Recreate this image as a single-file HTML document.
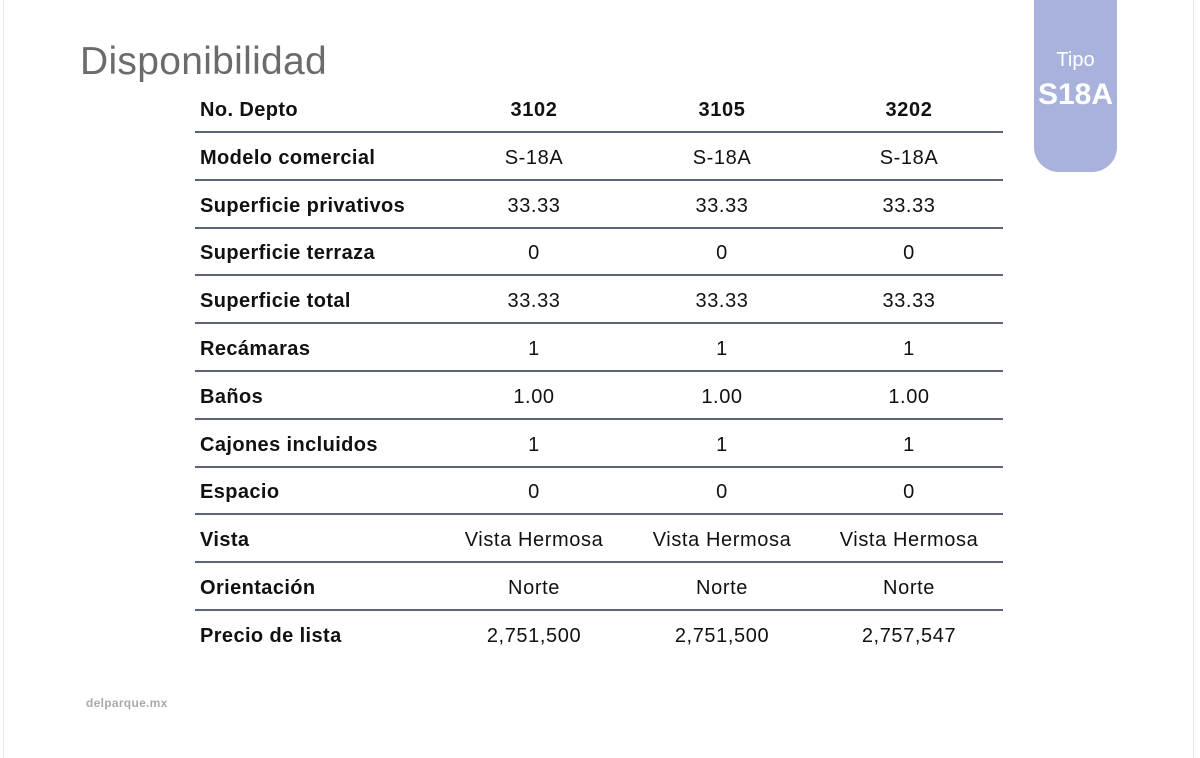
<!DOCTYPE html>
<html><head><meta charset="utf-8"><style>
body{margin:0;width:1200px;height:749px;background:#fff;position:relative;overflow:hidden;font-family:"Liberation Sans",Arial,sans-serif;}
.frame{position:absolute;left:3px;top:-2px;width:1189px;height:760px;border-left:1px solid #e6e6e6;border-right:1px solid #e6e6e6;}
h1{position:absolute;left:80px;top:40px;margin:0;font-weight:normal;font-size:39px;letter-spacing:0.3px;color:#6b6b6b;}
.tab{position:absolute;left:1034px;top:0;width:83px;height:172px;background:#a8b2dc;border-radius:0 0 25px 25px;color:#fff;text-align:center;}
.tab .t{position:absolute;top:49px;width:100%;font-size:20px;}
.tab .s{position:absolute;top:78px;width:100%;font-size:30px;font-weight:bold;}
.row{position:absolute;left:195px;width:808px;height:47.8px;font-size:20px;color:#111;}
.row span{position:absolute;top:0;line-height:47.8px;}
.row .l{left:5px;font-weight:bold;letter-spacing:0.4px;}
.row .c{width:180px;text-align:center;letter-spacing:0.6px;}
.line{position:absolute;left:195px;width:808px;height:2px;background:#5b6577;}
.foot{position:absolute;left:86px;top:696px;font-size:12px;letter-spacing:0.3px;color:#aaa;font-weight:bold;}
</style></head><body>
<div class="frame"></div>
<h1>Disponibilidad</h1>
<div class="tab"><div class="t">Tipo</div><div class="s">S18A</div></div>
<div id="t"></div>
<div class="foot">delparque.mx</div>
<script>
var rows=[["No. Depto","3102","3105","3202"],["Modelo comercial","S-18A","S-18A","S-18A"],["Superficie privativos","33.33","33.33","33.33"],["Superficie terraza","0","0","0"],["Superficie total","33.33","33.33","33.33"],["Recámaras","1","1","1"],["Baños","1.00","1.00","1.00"],["Cajones incluidos","1","1","1"],["Espacio","0","0","0"],["Vista","Vista Hermosa","Vista Hermosa","Vista Hermosa"],["Orientación","Norte","Norte","Norte"],["Precio de lista","2,751,500","2,751,500","2,757,547"]];
var h="";var cx=[534,722,909];
rows.forEach(function(r,i){var top=87+i*47.8;
h+='<div class="row" style="top:'+top+'px"><span class="l">'+r[0]+'</span>';
for(var j=0;j<3;j++)h+='<span class="c" style="left:'+(cx[j]-195-90)+'px;'+(i==0?'font-weight:bold':'')+'">'+r[j+1]+'</span>';
h+='</div>';
if(i<11)h+='<div class="line" style="top:'+(131+i*47.8)+'px"></div>';});
document.getElementById("t").innerHTML=h;
</script>
</body></html>
